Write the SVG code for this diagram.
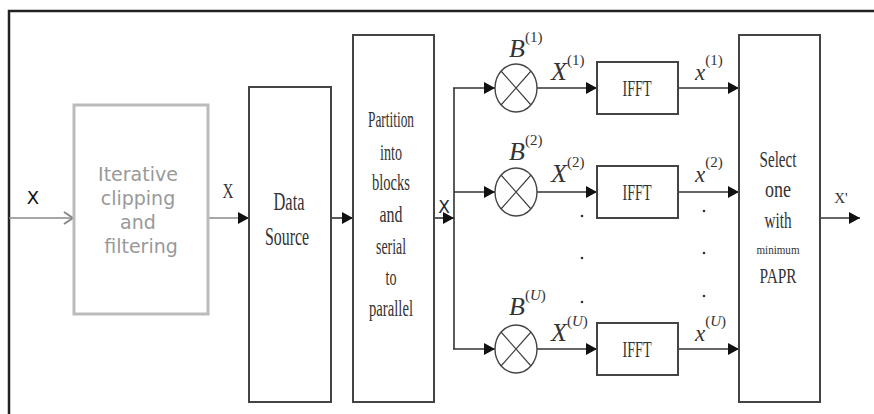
<svg xmlns="http://www.w3.org/2000/svg" width="874" height="414" viewBox="0 0 874 414">
<defs>
<marker id="ah" markerUnits="userSpaceOnUse" markerWidth="12" markerHeight="13" refX="11" refY="6.5" orient="auto">
<path d="M0,0.5 L11,6.5 L0,12.5 z" fill="#111"/>
</marker>
<marker id="oh" markerUnits="userSpaceOnUse" markerWidth="12" markerHeight="14" refX="10" refY="7" orient="auto">
<path d="M1,1 L10,7 L1,13" fill="none" stroke="#888" stroke-width="2"/>
</marker>
</defs>
<style>
.box{fill:#fff;stroke:#444;stroke-width:2}
.gbox{fill:#fff;stroke:#bbb;stroke-width:3}
.ln{fill:none;stroke:#333;stroke-width:1.6}
.circ{fill:#fff;stroke:#444;stroke-width:1.4}
.cr{stroke:#444;stroke-width:1.2}
.ser{font-family:"Liberation Serif",serif;fill:#333;text-anchor:middle}
.it{font-family:"Liberation Serif",serif;font-style:italic;fill:#333}
.sup{font-size:15px;font-style:normal}
.ui{font-style:italic}
.sans{font-family:"DejaVu Sans",sans-serif}
.dot{fill:#333}
</style>
<rect width="874" height="414" fill="#fff"/>
<g id="frame">
<path d="M9,414 L9,11 L874,11" fill="none" stroke="#222" stroke-width="2.5"/>
</g>
<g id="connectors">
<line x1="9" y1="218" x2="73" y2="218" stroke="#888" stroke-width="1.6" marker-end="url(#oh)"/>
<line x1="208" y1="218" x2="249" y2="218" stroke="#888" stroke-width="1.6" marker-end="url(#ah)"/>
<line class="ln" x1="331" y1="218" x2="353" y2="218" marker-end="url(#ah)"/>
<line class="ln" x1="434" y1="218" x2="454" y2="218" marker-end="url(#ah)"/>
<line class="ln" x1="454" y1="88" x2="454" y2="349"/>
<line class="ln" x1="453" y1="88" x2="495" y2="88" marker-end="url(#ah)"/>
<line class="ln" x1="454" y1="192" x2="495" y2="192" marker-end="url(#ah)"/>
<line class="ln" x1="453" y1="349" x2="495" y2="349" marker-end="url(#ah)"/>
<line class="ln" x1="537" y1="88" x2="597" y2="88" marker-end="url(#ah)"/>
<line class="ln" x1="537" y1="192" x2="597" y2="192" marker-end="url(#ah)"/>
<line class="ln" x1="537" y1="349" x2="597" y2="349" marker-end="url(#ah)"/>
<line class="ln" x1="678" y1="88" x2="739" y2="88" marker-end="url(#ah)"/>
<line class="ln" x1="678" y1="192" x2="739" y2="192" marker-end="url(#ah)"/>
<line class="ln" x1="678" y1="349" x2="739" y2="349" marker-end="url(#ah)"/>
<line class="ln" x1="820" y1="218" x2="860" y2="218" marker-end="url(#ah)"/>
</g>
<g id="labels">
<text x="33" y="204" class="sans" font-size="18" fill="#111" text-anchor="middle">X</text>
<text x="228" y="198" class="ser" font-size="21" textLength="11" lengthAdjust="spacingAndGlyphs">X</text>
<text x="444" y="213" class="sans" font-size="17" fill="#1a2a44" text-anchor="middle">X</text>
<text x="841" y="203" class="ser" font-size="15">X'</text>
<text x="509" y="57" class="it" font-size="26">B<tspan class="sup" dy="-15">(1)</tspan></text>
<text x="509" y="160" class="it" font-size="26">B<tspan class="sup" dy="-15">(2)</tspan></text>
<text x="509" y="315" class="it" font-size="26">B<tspan class="sup" dy="-15">(<tspan class="ui">U</tspan>)</tspan></text>
<text x="551" y="80" class="it" font-size="26">X<tspan class="sup" dy="-15">(1)</tspan></text>
<text x="551" y="182" class="it" font-size="26">X<tspan class="sup" dy="-15">(2)</tspan></text>
<text x="551" y="341" class="it" font-size="26">X<tspan class="sup" dy="-15">(<tspan class="ui">U</tspan>)</tspan></text>
<text x="695" y="80" class="it" font-size="23">x<tspan class="sup" dy="-15">(1)</tspan></text>
<text x="695" y="182" class="it" font-size="23">x<tspan class="sup" dy="-15">(2)</tspan></text>
<text x="695" y="341" class="it" font-size="23">x<tspan class="sup" dy="-15">(<tspan class="ui">U</tspan>)</tspan></text>
<circle class="dot" cx="582" cy="216" r="1.3"/>
<circle class="dot" cx="582" cy="258" r="1.3"/>
<circle class="dot" cx="582" cy="302" r="1.3"/>
<circle class="dot" cx="704" cy="211" r="1.3"/>
<circle class="dot" cx="704" cy="253" r="1.3"/>
<circle class="dot" cx="704" cy="296" r="1.3"/>
</g>
<g id="iterative">
<rect class="gbox" x="74" y="105" width="134" height="209"/>
<text class="sans" font-size="19" fill="#999" text-anchor="middle">
<tspan x="141" y="181">Iterative</tspan>
<tspan x="141" y="205">clipping</tspan>
<tspan x="141" y="229">and</tspan>
<tspan x="141" y="253">filtering</tspan>
</text>
</g>
<g id="datasource">
<rect class="box" x="249" y="87" width="82" height="315"/>
<text class="ser" font-size="25" x="289" y="210" textLength="31" lengthAdjust="spacingAndGlyphs">Data</text>
<text class="ser" font-size="25" x="287" y="245" textLength="44" lengthAdjust="spacingAndGlyphs">Source</text>
</g>
<g id="partition">
<rect class="box" x="353" y="35" width="81" height="367"/>
<text class="ser" font-size="24" x="391" y="127" textLength="46" lengthAdjust="spacingAndGlyphs">Partition</text>
<text class="ser" font-size="24" x="391" y="160" textLength="22" lengthAdjust="spacingAndGlyphs">into</text>
<text class="ser" font-size="24" x="391" y="190" textLength="38" lengthAdjust="spacingAndGlyphs">blocks</text>
<text class="ser" font-size="24" x="391" y="222" textLength="23" lengthAdjust="spacingAndGlyphs">and</text>
<text class="ser" font-size="24" x="391" y="254" textLength="30" lengthAdjust="spacingAndGlyphs">serial</text>
<text class="ser" font-size="24" x="391" y="285" textLength="11" lengthAdjust="spacingAndGlyphs">to</text>
<text class="ser" font-size="24" x="391" y="316" textLength="44" lengthAdjust="spacingAndGlyphs">parallel</text>
</g>
<g id="mult1">
<ellipse class="circ" cx="516" cy="88" rx="21" ry="24"/>
<path class="cr" d="M501,71 L531,105 M531,71 L501,105"/>
</g>
<g id="mult2">
<ellipse class="circ" cx="516" cy="192" rx="21" ry="24"/>
<path class="cr" d="M501,175 L531,209 M531,175 L501,209"/>
</g>
<g id="multU">
<ellipse class="circ" cx="516" cy="349" rx="21" ry="24"/>
<path class="cr" d="M501,332 L531,366 M531,332 L501,366"/>
</g>
<g id="ifft1">
<rect class="box" x="597" y="62" width="81" height="52"/>
<text class="ser" font-size="23" x="637" y="96" textLength="29" lengthAdjust="spacingAndGlyphs">IFFT</text>
</g>
<g id="ifft2">
<rect class="box" x="597" y="166" width="81" height="52"/>
<text class="ser" font-size="23" x="637" y="200" textLength="29" lengthAdjust="spacingAndGlyphs">IFFT</text>
</g>
<g id="ifftU">
<rect class="box" x="597" y="323" width="81" height="52"/>
<text class="ser" font-size="23" x="637" y="357" textLength="29" lengthAdjust="spacingAndGlyphs">IFFT</text>
</g>
<g id="select">
<rect class="box" x="739" y="35" width="81" height="367"/>
<text class="ser" font-size="24" x="778" y="167" textLength="37" lengthAdjust="spacingAndGlyphs">Select</text>
<text class="ser" font-size="24" x="778" y="197" textLength="26" lengthAdjust="spacingAndGlyphs">one</text>
<text class="ser" font-size="24" x="778" y="228" textLength="27" lengthAdjust="spacingAndGlyphs">with</text>
<text class="ser" font-size="13" x="778" y="254" textLength="43" lengthAdjust="spacingAndGlyphs">minimum</text>
<text class="ser" font-size="22" x="778" y="283" textLength="37" lengthAdjust="spacingAndGlyphs">PAPR</text>
</g>
</svg>
